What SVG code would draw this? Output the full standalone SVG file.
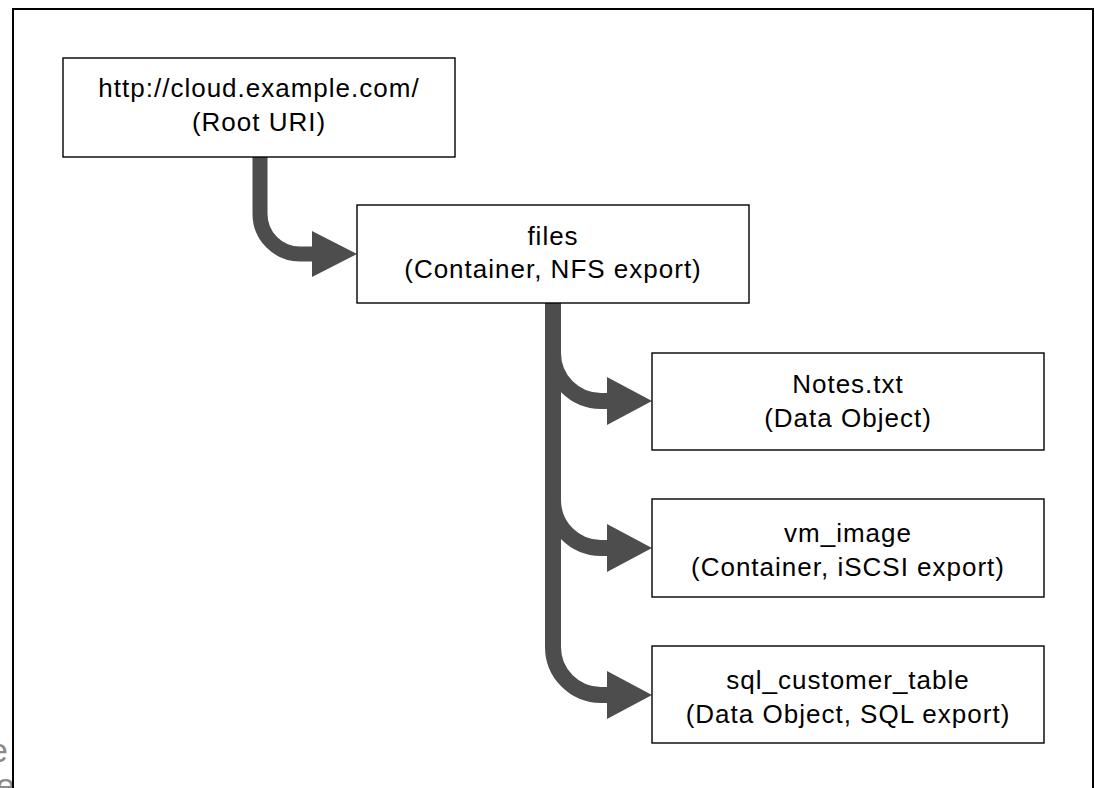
<svg xmlns="http://www.w3.org/2000/svg" width="1095" height="788" viewBox="0 0 1095 788">
<style>
.box{fill:#fff;stroke:#000;stroke-width:1.4}
.lbl{font-family:"Liberation Sans",Arial,sans-serif;font-size:26px;fill:#000;text-anchor:middle;letter-spacing:1px}
.conn{fill:none;stroke:#4d4d4d;stroke-width:16}
.head{fill:#4d4d4d}
.ghost{font-family:"Liberation Sans",Arial,sans-serif;font-size:34px;fill:#8a8a8a;text-anchor:end}
</style>
<rect x="0" y="0" width="1095" height="788" fill="#fff"/>
<text class="ghost" x="8" y="762">e</text>
<text class="ghost" x="15" y="797">le</text>
<rect x="13" y="9" width="1080" height="800" fill="none" stroke="#000" stroke-width="2"/>
<g id="connectors">
<path class="conn" d="M260 157 V214 A40 40 0 0 0 300 254 H316" style="stroke-width:15"/>
<polygon class="head" points="312,231 357,254 312,277"/>
<path class="conn" d="M553 303 V647 A48 48 0 0 0 601 695 H610"/>
<path class="conn" d="M553 353 A48 48 0 0 0 601 401 H610"/>
<path class="conn" d="M553 500 A48 48 0 0 0 601 548 H610"/>
<polygon class="head" points="607,377 652,401 607,425"/>
<polygon class="head" points="607,524 652,548 607,572"/>
<polygon class="head" points="607,671 652,695 607,719"/>
</g>
<g id="root">
<rect class="box" x="63" y="58" width="392" height="99"/>
<text class="lbl" x="259" y="97">http://cloud.example.com/</text>
<text class="lbl" x="259" y="131">(Root URI)</text>
</g>
<g id="files">
<rect class="box" x="357" y="205" width="392" height="98"/>
<text class="lbl" x="553" y="245">files</text>
<text class="lbl" x="553" y="278">(Container, NFS export)</text>
</g>
<g id="notes">
<rect class="box" x="652" y="353" width="392" height="97"/>
<text class="lbl" x="848" y="393">Notes.txt</text>
<text class="lbl" x="848" y="427">(Data Object)</text>
</g>
<g id="vm_image">
<rect class="box" x="652" y="499" width="392" height="98"/>
<text class="lbl" x="848" y="542">vm_image</text>
<text class="lbl" x="848" y="576">(Container, iSCSI export)</text>
</g>
<g id="sql_customer_table">
<rect class="box" x="652" y="646" width="392" height="97"/>
<text class="lbl" x="848" y="689">sql_customer_table</text>
<text class="lbl" x="848" y="723">(Data Object, SQL export)</text>
</g>
</svg>
